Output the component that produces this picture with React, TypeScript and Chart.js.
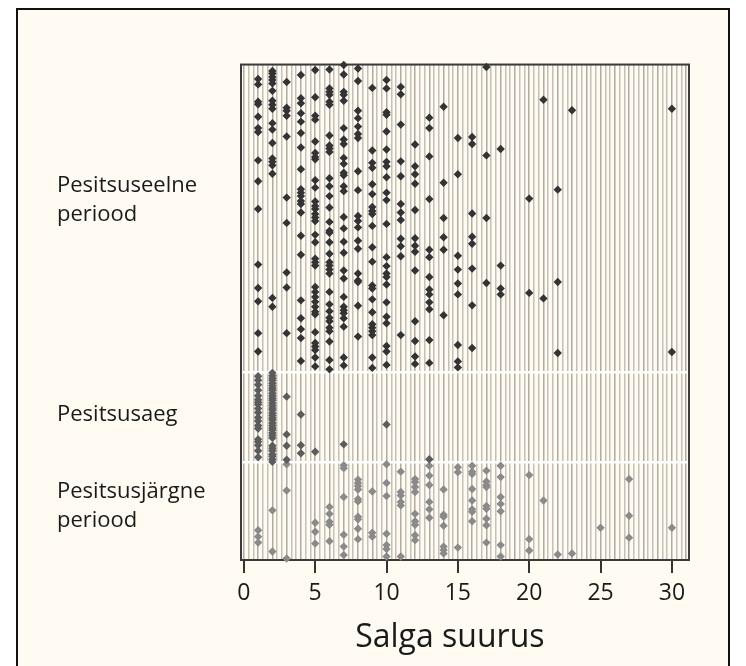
import React, { useEffect, useRef } from 'react';
import { Chart, registerables } from 'chart.js';

Chart.register(...registerables);

const FONT = '"Open Sans", "Noto Sans", sans-serif';

// axis settings / labels
const xTickValues = [0, 5, 10, 15, 20, 25, 30];
const xMin = -0.2;
const xMax = 31.2;
const yMin = 0;
const yMax = 99.8;
const bandBoundaries = [19.6, 37.8];
const periodLabels: (string | string[])[] = [['Pesitsusjärgne', 'periood'], 'Pesitsusaeg', ['Pesitsuseelne', 'periood']];
const periodLabelPositions = [10.9, 29.2, 72.5];
const xTitle = 'Salga suurus';

// flock size -> jittered vertical positions
const preBreeding: [number, number[]][] = [
  [1, [96.9, 95.8, 92.3, 91.8, 89.3, 87, 86.2, 80.5, 76.3, 70.7, 59.5, 54.8, 52.1, 45.7, 42]],
  [2, [98.5, 98, 97.3, 96.7, 96, 94.5, 92.5, 91.7, 90.9, 88, 86.7, 84, 80.9, 80.2, 79.5, 77.8, 52.8, 51]],
  [3, [96.3, 91.1, 90.5, 89.5, 85.3, 73, 67.9, 57.9, 54.9, 45.7]],
  [4, [97.7, 93, 92, 90, 88.3, 86, 83.1, 78.7, 74.7, 74, 73.3, 72.3, 71.7, 70, 65.3, 61.5, 52.3, 48.7, 46.5, 44.7, 40.1]],
  [5, [98.7, 93.2, 89.5, 88.7, 84.3, 82, 81.2, 80.7, 76.5, 75, 72.2, 71.3, 70.7, 69.7, 69, 68.3, 65.5, 64, 60.7, 60, 59.3, 55, 54, 53, 52, 51, 50, 49.5, 45.9, 43.7, 43, 42.3, 40.8, 39]],
  [6, [98.8, 95, 94.3, 93.7, 92.3, 91.7, 85.5, 83.5, 82.9, 82.2, 76.9, 75.3, 73.3, 71, 68.1, 66.3, 65.9, 64, 61.7, 60, 59.3, 58.5, 57.7, 54, 51.5, 50.1, 48.8, 48.1, 46.8, 46.1, 44, 40.3, 38.4]],
  [7, [99.7, 97.8, 94.3, 93.7, 92.5, 87, 84.7, 83.8, 81, 79.8, 78, 77.5, 75.3, 74.3, 69.1, 66.8, 64.1, 61.9, 58.3, 56.7, 53, 51, 50.3, 49.7, 48.7, 47, 40.8, 39.2]],
  [8, [99, 96.5, 90.5, 89, 87.3, 85.8, 85, 78.3, 74.5, 69.3, 68.3, 67, 64.3, 62.7, 57.7, 56.3, 56, 51.2, 45]],
  [9, [95.1, 82.5, 80, 79, 75.7, 73.7, 71.1, 70.3, 69.7, 67.3, 63, 60.1, 55.3, 54.7, 52.5, 49.9, 47.5, 46.8, 46.1, 45.3, 40.8, 38.7]],
  [10, [96.7, 95, 90.2, 89.7, 86.3, 82.7, 80.2, 79.3, 77.1, 74, 72.5, 67.7, 61, 59.2, 57.7, 57, 55.5, 51.9, 49, 47.7, 43.1, 42, 39.3]],
  [11, [95.3, 93.8, 87.7, 80.3, 77.3, 71.7, 70, 68.5, 64.7, 63.2, 61.2, 45.3]],
  [12, [83.7, 79.3, 77.7, 75.8, 70.5, 64.8, 63.3, 62.1, 58.3, 48.1, 44.1, 41, 39.5]],
  [13, [89.1, 87, 81.3, 72.7, 62.5, 61, 57, 54.5, 53.5, 51.9, 50.5, 44.3, 39.7]],
  [14, [91.3, 76, 68.9, 65, 62.5, 49.3]],
  [15, [85, 77.7, 61.3, 58.5, 55.7, 53.5, 43.3, 40, 38.8]],
  [16, [85.2, 83.8, 69.8, 65.1, 63.7, 58.7, 51.3, 42.7]],
  [17, [99.3, 81.5, 68.9, 55.8]],
  [18, [82.8, 59.3, 54.7, 53.5]],
  [20, [72.8, 53.8]],
  [21, [92.7, 52.7]],
  [22, [74.6, 56, 41.7]],
  [23, [90.6]],
  [30, [90.9, 41.9]],
];

const breeding: [number, number[]][] = [
  [1, [37, 36.2, 35.3, 34.2, 33.1, 32.3, 31.8, 31.3, 30.5, 29.7, 28.7, 28, 27.1, 26.5, 24.3, 23.8, 23.1, 22, 20.7]],
  [2, [37.7, 37.1, 36.6, 36.2, 35.6, 35.1, 34.6, 34.2, 33.6, 33.1, 32.6, 32.2, 31.6, 31.1, 30.6, 30.2, 29.6, 29.1, 28.6, 28.2, 27.6, 27.1, 26.6, 26.2, 25.6, 25.1, 24.6, 23, 22.5, 22, 21.3, 20.9, 20.3, 19.8]],
  [3, [32.9, 25.3, 23, 20.2]],
  [4, [29.3, 23.1, 21.5]],
  [5, [21.8]],
  [7, [23.3]],
  [10, [27.3]],
  [13, [20.3]],
];

const postBreeding: [number, number[]][] = [
  [1, [6, 4.7, 3.5]],
  [2, [10, 1.7]],
  [3, [19.3, 14, 0.3]],
  [5, [7.5, 5.7, 3.3]],
  [6, [10.7, 9.3, 7.7, 7.1, 3.8]],
  [7, [19.1, 18.5, 12.7, 5.1, 2.7, 1]],
  [8, [16.2, 15.5, 14.9, 14.2, 12.3, 11.8, 8.7, 8.2, 6.3, 4.2]],
  [9, [13.8, 5.5, 4.7]],
  [10, [19.3, 15.5, 12.9, 5.3, 3, 2.2, 0.7]],
  [11, [17.8, 13.7, 13, 11.7, 11, 0.7]],
  [12, [16.3, 15.7, 14.7, 13.7, 9.3, 7.8, 7.1, 5, 4]],
  [13, [19, 17, 15.1, 11.7, 10.2, 8.5]],
  [14, [14.2, 9.1, 8.7, 6.9, 2.7, 2, 1.3]],
  [15, [18.7, 17.7, 2.5]],
  [16, [19, 17.8, 17.3, 14.3, 12, 10.2, 9.7, 7.8]],
  [17, [18, 15.8, 15.1, 14.7, 10.9, 10.3, 8.3, 7, 3.5]],
  [18, [19, 16.7, 12.7, 11.3, 9.8, 3, 0.7]],
  [20, [17.1, 4.2, 1.9]],
  [21, [12]],
  [22, [1.1]],
  [23, [1.3]],
  [25, [6.5]],
  [27, [16.3, 8.9, 4.5]],
  [30, [6.5]],
];

function toPoints(groups: [number, number[]][]) {
  return groups.flatMap(([x, ys]) => ys.map((y) => ({ x, y })));
}

const plotFrame = {
  id: 'plotFrame',
  beforeDatasetsDraw(chart: any) {
    const { ctx, chartArea: a } = chart;
    ctx.save();
    ctx.strokeStyle = '#3a3a3a';
    ctx.lineWidth = 2;
    ctx.strokeRect(a.left, a.top, a.right - a.left, a.bottom - a.top);
    ctx.restore();
  },
};

// axis title, centred under the labelled tick range (slightly left of the plot centre as in the original)
const axisTitle = {
  id: 'axisTitle',
  afterDraw(chart: any) {
    const { ctx } = chart;
    const xs = chart.scales.x;
    const cx = (xs.getPixelForValue(xTickValues[0]) + xs.getPixelForValue(xTickValues[xTickValues.length - 1])) / 2 - 8;
    ctx.save();
    ctx.fillStyle = '#1a1a1a';
    ctx.font = `normal 32px ${FONT}`;
    ctx.textAlign = 'center';
    ctx.textBaseline = 'alphabetic';
    ctx.fillText(xTitle, cx, 647);
    ctx.restore();
  },
};

export default function App() {
  const ref = useRef<HTMLCanvasElement | null>(null);

  useEffect(() => {
    if (!ref.current) return;
    const yFontSize = 22;
    const m = document.createElement('canvas').getContext('2d')!;
    m.font = `normal ${yFontSize}px ${FONT}`;
    const widest = Math.max(...['Pesitsusjärgne', 'periood', 'Pesitsusaeg', 'Pesitsuseelne'].map((t) => m.measureText(t).width));
    const yAxisWidth = 184;
    const yPad = yAxisWidth - widest;

    const pointBase = { pointStyle: 'rectRot', pointRadius: 4.2, pointHoverRadius: 4.2, borderWidth: 0, showLine: false, clip: false as any };

    const chart = new Chart(ref.current, {
      type: 'scatter',
      data: {
        datasets: [
          { ...pointBase, label: 'Pesitsuseelne periood', data: toPoints(preBreeding), backgroundColor: '#333333' },
          { ...pointBase, label: 'Pesitsusaeg', data: toPoints(breeding), backgroundColor: '#5c5c5c' },
          { ...pointBase, label: 'Pesitsusjärgne periood', data: toPoints(postBreeding), backgroundColor: '#8a8a8a' },
        ] as any,
      },
      options: {
        animation: false,
        responsive: false,
        devicePixelRatio: 1,
        layout: { padding: { left: 57, right: 57, top: 61, bottom: 0 } },
        plugins: { legend: { display: false }, tooltip: { enabled: false } },
        scales: {
          xg: {
            type: 'linear',
            position: 'bottom',
            min: xMin,
            max: xMax,
            afterBuildTicks: (s: any) => {
              const t: { value: number }[] = [];
              for (let k = 0; k <= 93; k++) t.push({ value: k / 3 });
              s.ticks = t;
            },
            afterFit: (s: any) => { s.height = 0; },
            grid: {
              color: (c: any) => (c.index % 3 === 0 ? 'rgba(150,145,135,0.75)' : 'rgba(160,155,145,0.6)'),
              lineWidth: 1.5,
              drawTicks: false,
              z: -2,
            },
            ticks: { display: false },
            border: { display: false },
          },
          x: {
            type: 'linear',
            position: 'bottom',
            min: xMin,
            max: xMax,
            afterBuildTicks: (s: any) => { s.ticks = xTickValues.map((v) => ({ value: v })); },
            afterFit: (s: any) => { s.height = 106; },
            grid: { display: true, drawOnChartArea: false, drawTicks: true, tickLength: 13, color: '#333', lineWidth: 2 },
            border: { display: false },
            ticks: {
              autoSkip: false,
              maxRotation: 0,
              padding: 7,
              color: '#1a1a1a',
              font: { family: FONT, size: 23 },
              callback: (v: any) => String(v),
            },
            title: { display: false },
          },
          yg: {
            type: 'linear',
            position: 'left',
            min: yMin,
            max: yMax,
            afterBuildTicks: (s: any) => { s.ticks = bandBoundaries.map((v) => ({ value: v })); },
            afterFit: (s: any) => { s.width = 0; },
            grid: { color: '#ffffff', lineWidth: 2.5, drawTicks: false, z: -1 },
            ticks: { display: false },
            border: { display: false },
          },
          y: {
            type: 'linear',
            position: 'left',
            min: yMin,
            max: yMax,
            afterBuildTicks: (s: any) => { s.ticks = periodLabelPositions.map((v) => ({ value: v })); },
            afterFit: (s: any) => { s.width = yAxisWidth; },
            grid: { display: false, drawTicks: false },
            border: { display: false },
            ticks: {
              autoSkip: false,
              crossAlign: 'far',
              padding: yPad,
              color: '#1a1a1a',
              font: { family: FONT, size: yFontSize, lineHeight: 1.32 },
              callback: (_v: any, i: number) => periodLabels[i],
            },
          },
        } as any,
      },
      plugins: [plotFrame, axisTitle],
    });
    return () => chart.destroy();
  }, []);

  return (
    <div style={{ position: 'absolute', left: 0, top: 0, width: 746, height: 666, background: '#ffffff', overflow: 'hidden' }}>
      <div style={{ position: 'absolute', left: 16, top: 8, width: 714, height: 700, border: '2px solid #111', background: '#fffbf3', boxSizing: 'border-box' }} />
      <canvas ref={ref} width={746} height={666} style={{ position: 'absolute', left: 0, top: 0 }} />
    </div>
  );
}
